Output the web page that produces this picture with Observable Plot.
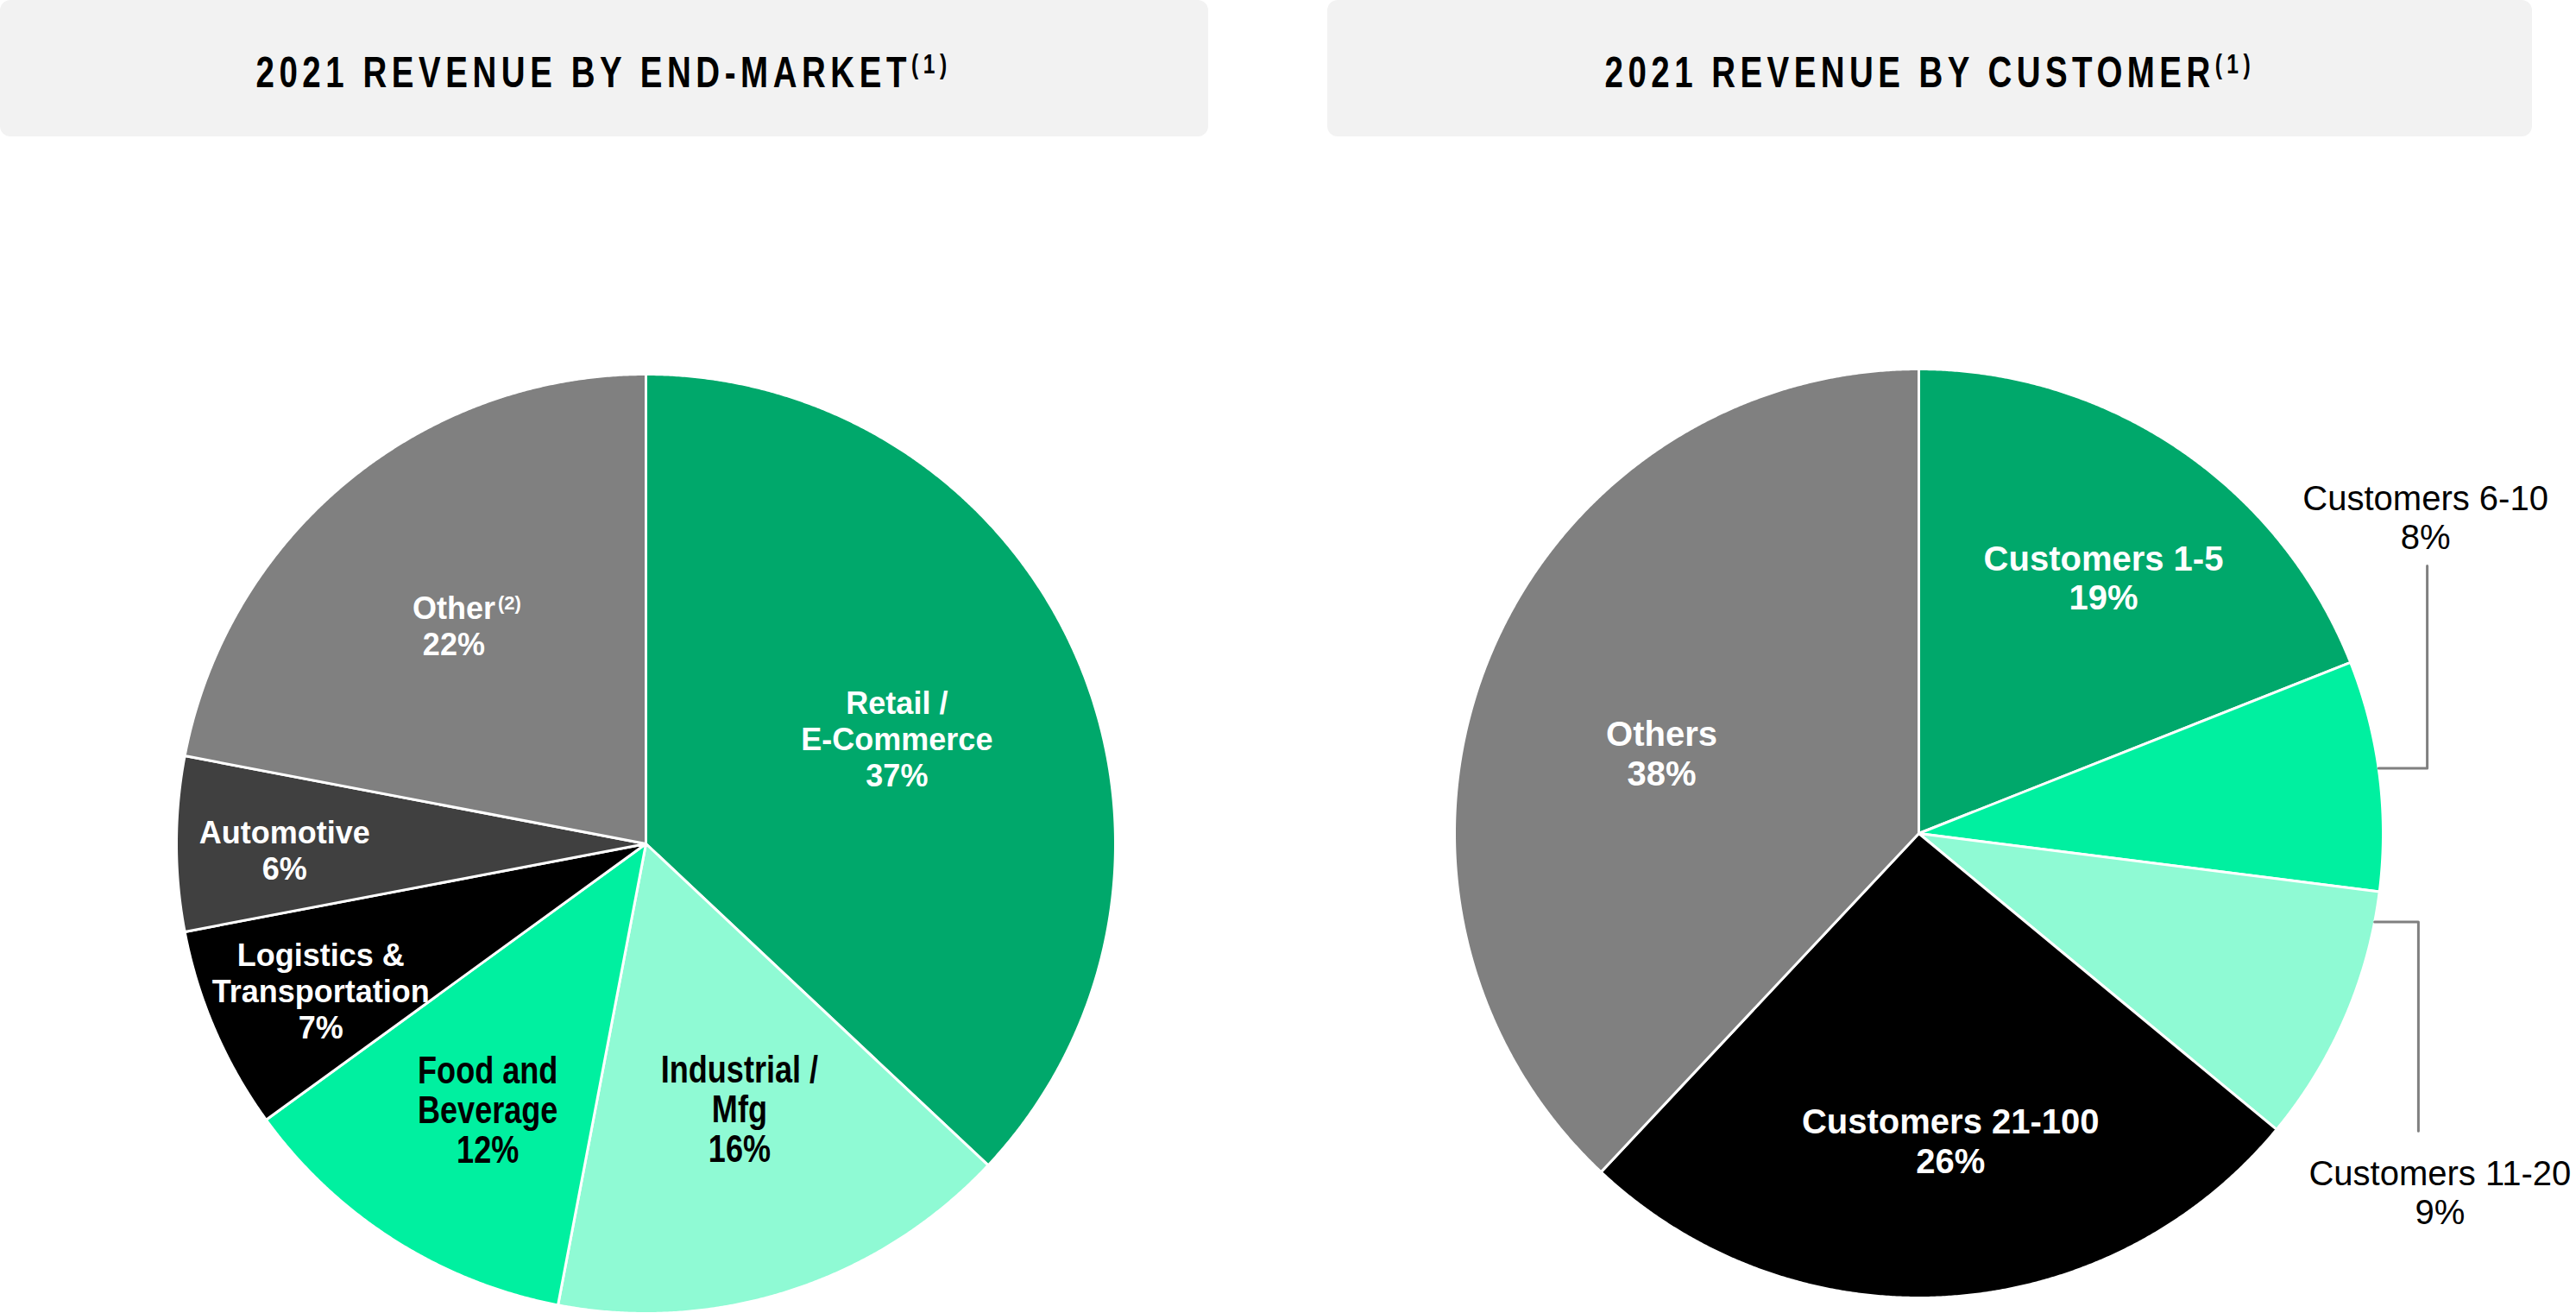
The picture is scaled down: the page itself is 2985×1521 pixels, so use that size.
<!DOCTYPE html>
<html>
<head>
<meta charset="utf-8">
<script src="https://cdn.jsdelivr.net/npm/d3@7"></script>
<script src="https://cdn.jsdelivr.net/npm/@observablehq/plot@0.6"></script>
<style>
  html, body { margin: 0; padding: 0; background: #fff; }
  #page { position: relative; width: 2985px; height: 1521px; overflow: hidden; background: #fff; }
  .hdr { position: absolute; top: 0; height: 158px; background: #f2f2f2; border-radius: 12px;
         display: flex; align-items: center; justify-content: center; z-index: 2; }
  .hdr span { display: inline-block; font-family: "Liberation Sans", Arial, sans-serif; font-weight: 700; font-size: 50px;
              line-height: 1; color: #000; white-space: nowrap; transform: scaleX(0.77); transform-origin: 50% 50%; padding-top: 10px; }
  .hdr sup { font-size: 0.64em; vertical-align: 16px; line-height: 0; }
  #chart { position: absolute; left: 0; top: 0; z-index: 1; }
</style>
</head>
<body>
<div id="page">
  <div class="hdr" id="hdrLeft" style="left:0;width:1400px;"><span></span></div>
  <div class="hdr" id="hdrRight" style="left:1538px;width:1396px;"><span></span></div>
  <div id="chart"></div>
</div>
<script>
// ---------------- data ----------------
const titles = ["2021 REVENUE BY END-MARKET", "2021 REVENUE BY CUSTOMER"];
const titleNotes = ["(1)", "(1)"];

const endMarketCategories = ["Retail / E-Commerce", "Industrial / Mfg", "Food and Beverage", "Logistics & Transportation", "Automotive", "Other"];
const endMarketLabels = ["Retail /\nE-Commerce", "Industrial /\nMfg", "Food and\nBeverage", "Logistics &\nTransportation", "Automotive", "Other"];
const endMarketShares = [37, 16, 12, 7, 6, 22];
const otherNote = "(2)";

const customerCategories = ["Customers 1-5", "Customers 6-10", "Customers 11-20", "Customers 21-100", "Others"];
const customerLabels = ["Customers 1-5", "Customers 6-10", "Customers 11-20", "Customers 21-100", "Others"];
const customerShares = [19, 8, 9, 26, 38];

// ---------------- styles & layout ----------------
const endMarketColors = ["#00a86b", "#8ffad4", "#00f0a0", "#000000", "#404040", "#808080"];
const endMarketTextColors = ["white", "black", "black", "white", "white", "white"];
const endMarketTextStyle = ["bold", "narrow", "narrow", "bold", "bold", "bold"];
// [radius fraction, angle shift (deg)]
const endMarketLabelPos = [[0.58, 0.6], [0.60, -1.4], [0.66, -1.7], [0.76, -0.9], [0.77, -1.0], [0.62, -1.7]];

const customerColors = ["#00a86b", "#00f0a0", "#8ffad4", "#000000", "#808080"];
const customerTextColors = ["white", "black", "black", "white", "white"];
const customerLabelPos = [[0.68, 1.6], null, null, [0.665, -2.3], [0.58, -4.3]];
// outer labels: where the leader leaves the slice (fraction of slice), elbow x and end y (radius units), label offset
const customerLeaders = {
  1: {at: 0.47, elbowX: 1.095, endY: -0.576, dx: -2, dy: -57},
  2: {at: 0.117, elbowX: 1.076, endY: 0.641, dx: 25, dy: 71}
};

const geomLeft = {cx: 748, cy: 977, r: 544};
const geomRight = {cx: 2223, cy: 965, r: 538};
const W = 2985, H = 1521;
const narrowScale = 0.82;
const titleScale = 0.77;

// ---------------- headers ----------------
const titleTargets = [806, 754];
["hdrLeft", "hdrRight"].forEach((id, i) => {
  const span = document.querySelector(`#${id} span`);
  span.innerHTML = "";
  span.append(document.createTextNode(titles[i]));
  const sup = document.createElement("sup");
  sup.textContent = titleNotes[i];
  span.append(sup);
  span.style.letterSpacing = "0px";
  const w = span.offsetWidth;
  const n = titles[i].length + titleNotes[i].length;
  span.style.letterSpacing = ((titleTargets[i] / titleScale - w) / n) + "px";
});

// ---------------- geometry from data ----------------
const pie = d3.pie().sort(null).value(d => d);
function polar(g, angle, rf) {
  return [g.cx + g.r * rf * Math.sin(angle), g.cy - g.r * rf * Math.cos(angle)];
}
function slices(shares, colors, g) {
  return pie(shares).map((a, i) => {
    const ring = [[g.cx, g.cy]];
    const steps = Math.max(4, Math.ceil((a.endAngle - a.startAngle) / (Math.PI / 720)));
    for (let k = 0; k <= steps; ++k) {
      ring.push(polar(g, a.startAngle + (a.endAngle - a.startAngle) * k / steps, 1));
    }
    ring.push([g.cx, g.cy]);
    return {type: "Feature", properties: {fill: colors[i]}, geometry: {type: "Polygon", coordinates: [ring]}};
  });
}
function labels(shares, names, g, pos, textColors, styles) {
  const arcs = pie(shares);
  return arcs.map((a, i) => {
    if (!pos[i]) return null;
    const mid = (a.startAngle + a.endAngle) / 2 + pos[i][1] * Math.PI / 180;
    const [x, y] = polar(g, mid, pos[i][0]);
    return {x, y, text: `${names[i]}\n${shares[i]}%`, fill: textColors[i], style: styles ? styles[i] : "bold", i};
  }).filter(d => d);
}

const leftSlices = slices(endMarketShares, endMarketColors, geomLeft);
const rightSlices = slices(customerShares, customerColors, geomRight);
const leftLabels = labels(endMarketShares, endMarketLabels, geomLeft, endMarketLabelPos, endMarketTextColors, endMarketTextStyle);
const rightLabels = labels(customerShares, customerLabels, geomRight, customerLabelPos, customerTextColors, null);
const otherLabel = leftLabels.find(d => d.i === endMarketCategories.indexOf("Other"));

const rightArcs = pie(customerShares);
const leaderLines = [];
const outerLabels = [];
Object.entries(customerLeaders).forEach(([k, c]) => {
  const i = +k;
  const a = rightArcs[i];
  const ang = a.startAngle + (a.endAngle - a.startAngle) * c.at;
  const start = polar(geomRight, ang, 1);
  const ex = geomRight.cx + geomRight.r * c.elbowX;
  const ey = geomRight.cy + geomRight.r * c.endY;
  leaderLines.push({type: "Feature", properties: {}, geometry: {type: "LineString", coordinates: [start, [ex, start[1]], [ex, ey]]}});
  outerLabels.push({x: ex + c.dx, y: ey + c.dy, text: `${customerLabels[i]}\n${customerShares[i]}%`});
});

const frame = {type: "MultiPoint", coordinates: [[0, 0], [W, H]]};
const sans = "'Liberation Sans', Arial, sans-serif";

const chart = Plot.plot({
  width: W,
  height: H,
  margin: 0,
  projection: {type: "identity", domain: frame},
  color: {type: "identity"},
  style: {background: "transparent", overflow: "visible"},
  marks: [
    Plot.geo(leftSlices.concat(rightSlices), {fill: d => d.properties.fill, stroke: "white", strokeWidth: 3, strokeLinejoin: "round"}),
    Plot.geo(leaderLines, {fill: "none", stroke: "#808080", strokeWidth: 3}),
    Plot.text(leftLabels.filter(d => d.style === "bold"), {x: "x", y: "y", text: "text", fill: "fill",
      fontFamily: sans, fontWeight: "bold", fontSize: 36, lineHeight: 1.167, lineAnchor: "middle"}),
    Plot.text(leftLabels.filter(d => d.style === "narrow"), {x: "x", y: "y", text: "text", fill: "fill",
      fontFamily: sans, fontWeight: "bold", fontSize: 44, lineHeight: 1.045, lineAnchor: "middle"}),
    Plot.text([otherLabel], {x: "x", y: "y", text: () => otherNote, fill: "fill",
      fontFamily: sans, fontWeight: "bold", fontSize: 22, textAnchor: "start", dx: 51, dy: -25}),
    Plot.text(rightLabels, {x: "x", y: "y", text: "text", fill: "fill",
      fontFamily: sans, fontWeight: "bold", fontSize: 40, lineHeight: 1.15, lineAnchor: "middle"}),
    Plot.text(outerLabels, {x: "x", y: "y", text: "text", fill: "black",
      fontFamily: sans, fontWeight: "normal", fontSize: 40, lineHeight: 1.125, lineAnchor: "middle"})
  ]
});

// condense the Arial-Narrow style labels horizontally (no narrow face is installed)
chart.querySelectorAll('g[font-size="44"] text').forEach(t => {
  const tr = t.getAttribute("transform");
  if (tr) {
    t.setAttribute("transform", `${tr} scale(${narrowScale},1)`);
  } else {
    const x = +t.getAttribute("x") || 0, y = +t.getAttribute("y") || 0;
    t.removeAttribute("x"); t.removeAttribute("y");
    t.setAttribute("transform", `translate(${x},${y}) scale(${narrowScale},1)`);
  }
});
document.getElementById("chart").append(chart);
</script>
</body>
</html>
